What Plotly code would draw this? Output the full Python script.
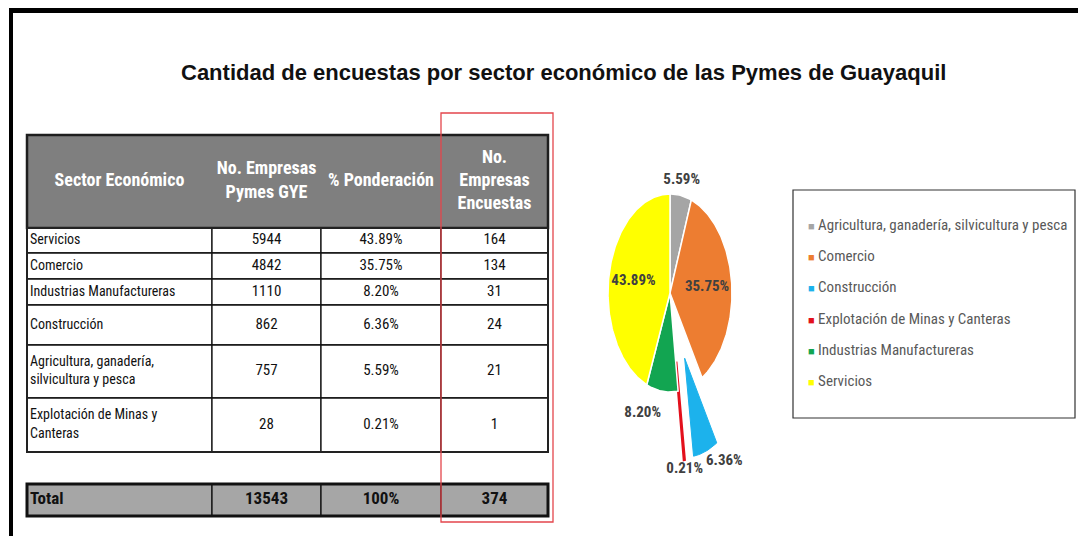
import math

import numpy as np
import plotly.graph_objects as go

# ---- data -------------------------------------------------------------
HEADERS = [
    "Sector Económico",
    "No. Empresas<br>Pymes GYE",
    "% Ponderación",
    "No.<br>Empresas<br>Encuestas",
]
SECTORS = [
    "Servicios",
    "Comercio",
    "Industrias Manufactureras",
    "Construcción",
    "Agricultura, ganadería,<br>silvicultura y pesca",
    "Explotación de Minas y<br>Canteras",
]
EMPRESAS = [5944, 4842, 1110, 862, 757, 28]
PONDERACION = [43.89, 35.75, 8.20, 6.36, 5.59, 0.21]
ENCUESTAS = [164, 134, 31, 24, 21, 1]
TOTAL_ROW = ["Total", "13543", "100%", "374"]

PIE_LABELS = [
    "Agricultura, ganadería, silvicultura y pesca",
    "Comercio",
    "Construcción",
    "Explotación de Minas y Canteras",
    "Industrias Manufactureras",
    "Servicios",
]
PIE_VALUES = [5.59, 35.75, 6.36, 0.21, 8.20, 43.89]

# ---- style ------------------------------------------------------------
W, H = 1078, 536
PIE_COLORS = ["#a5a5a5", "#ed7d31", "#1cb2ec", "#e3101c", "#12a551", "#ffff00"]
PIE_PULL = [0, 0, 0.7, 0.7, 0, 0]
PIE_EDGE_W = [1.5, 1.5, 1.0, 2.8, 1.5, 1.5]
# label radius (before pull) and text position for each slice
LABEL_R = [1.08, 0.6, 1.02, 1.02, 1.15, 0.6]
LABEL_POS = ["top center", "middle center", "bottom right", "bottom center",
             "bottom left", "middle center"]

NARROW = "Liberation Sans Narrow, Arial Narrow, Roboto Condensed, Liberation Sans, sans-serif"
TITLE_FONT = "Liberation Sans, Arial, sans-serif"

COL_EDGES = [27, 212, 321, 441, 548]
HEADER_Y = (135, 228)
ROW_EDGES = [228, 253, 279, 305, 345, 398, 452]
TOTAL_Y = (484, 516)

PIE_CX, PIE_CY, PIE_RX, PIE_RY = 670, 293, 62, 99
PIE_XR, PIE_YR = 2.0, 2.2

fig = go.Figure()
shapes = []

# ---- table ------------------------------------------------------------
shapes.append(dict(type="rect", xref="x", yref="y", x0=COL_EDGES[0], x1=COL_EDGES[-1],
                   y0=HEADER_Y[0], y1=HEADER_Y[1], fillcolor="#7f7f7f",
                   line=dict(color="#1e1e1e", width=2.5), layer="below"))
for r in range(len(SECTORS)):
    for c in range(4):
        shapes.append(dict(type="rect", xref="x", yref="y",
                           x0=COL_EDGES[c], x1=COL_EDGES[c + 1],
                           y0=ROW_EDGES[r], y1=ROW_EDGES[r + 1],
                           fillcolor="white", line=dict(color="#111", width=1.3),
                           layer="below"))
shapes.append(dict(type="rect", xref="x", yref="y", x0=COL_EDGES[0], x1=COL_EDGES[-1],
                   y0=ROW_EDGES[0], y1=ROW_EDGES[-1],
                   line=dict(color="#222", width=2), layer="below"))
for c in range(4):
    shapes.append(dict(type="rect", xref="x", yref="y",
                       x0=COL_EDGES[c], x1=COL_EDGES[c + 1],
                       y0=TOTAL_Y[0], y1=TOTAL_Y[1], fillcolor="#a6a6a6",
                       line=dict(color="#111", width=1.3), layer="below"))
shapes.append(dict(type="rect", xref="x", yref="y", x0=COL_EDGES[0], x1=COL_EDGES[-1],
                   y0=TOTAL_Y[0], y1=TOTAL_Y[1], line=dict(color="#111", width=3),
                   layer="below"))

col_mid = [(COL_EDGES[i] + COL_EDGES[i + 1]) / 2 for i in range(4)]
row_mid = [(ROW_EDGES[i] + ROW_EDGES[i + 1]) / 2 for i in range(len(SECTORS))]
header_mid = (HEADER_Y[0] + HEADER_Y[1]) / 2
total_mid = (TOTAL_Y[0] + TOTAL_Y[1]) / 2

text_kw = dict(mode="text", hoverinfo="skip", showlegend=False, xaxis="x", yaxis="y")

fig.add_trace(go.Scatter(x=col_mid, y=[header_mid] * 4,
                         text=[f"<b>{h}</b>" for h in HEADERS],
                         textposition="middle center",
                         textfont=dict(family=NARROW, size=18, color="white"), **text_kw))
fig.add_trace(go.Scatter(x=[COL_EDGES[0] + 3] * len(SECTORS), y=row_mid, text=SECTORS,
                         textposition="middle right",
                         textfont=dict(family=NARROW, size=14, color="#111"), **text_kw))
for c, col in enumerate([EMPRESAS, [f"{v:.2f}%" for v in PONDERACION], ENCUESTAS]):
    fig.add_trace(go.Scatter(x=[col_mid[c + 1]] * len(col), y=row_mid,
                             text=[str(v) for v in col], textposition="middle center",
                             textfont=dict(family=NARROW, size=15, color="#111"), **text_kw))
fig.add_trace(go.Scatter(x=[COL_EDGES[0] + 3] + col_mid[1:], y=[total_mid] * 4,
                         text=[f"<b>{t}</b>" for t in TOTAL_ROW],
                         textposition=["middle right"] + ["middle center"] * 3,
                         textfont=dict(family=NARROW, size=17, color="#111"), **text_kw))

# red highlight box round the survey column
shapes.append(dict(type="rect", xref="x", yref="y", x0=441, x1=553, y0=113, y1=522,
                   line=dict(color="#e4464c", width=1.3), layer="above"))

# ---- pie (stretched, as in the source) -------------------------------
total = sum(PIE_VALUES)
start = 0.0
lab_x, lab_y = [], []
for i, (name, val) in enumerate(zip(PIE_LABELS, PIE_VALUES)):
    f0, f1 = start / total, (start + val) / total
    mid = 2 * math.pi * (f0 + f1) / 2
    ox, oy = PIE_PULL[i] * math.sin(mid), PIE_PULL[i] * math.cos(mid)
    t = np.linspace(2 * math.pi * f0, 2 * math.pi * f1, max(3, int(val * 3.6) + 2))
    xs = [ox] + list(ox + np.sin(t)) + [ox]
    ys = [oy] + list(oy + np.cos(t)) + [oy]
    edge = PIE_COLORS[i] if PIE_PULL[i] else "white"
    fig.add_trace(go.Scatter(x=xs, y=ys, fill="toself", fillcolor=PIE_COLORS[i],
                             mode="lines", line=dict(color=edge, width=PIE_EDGE_W[i]),
                             name=name, showlegend=False, hoverinfo="name",
                             xaxis="x2", yaxis="y2"))
    rr = LABEL_R[i] + PIE_PULL[i]
    lab_x.append(rr * math.sin(mid))
    lab_y.append(rr * math.cos(mid))
    start += val

fig.add_trace(go.Scatter(x=lab_x, y=lab_y, mode="text",
                         text=[f"<b>{v:.2f}%</b>" for v in PIE_VALUES],
                         textposition=LABEL_POS, hoverinfo="skip", showlegend=False,
                         textfont=dict(family=NARROW, size=15, color="#404040"),
                         xaxis="x2", yaxis="y2", cliponaxis=False))

# legend box
shapes.append(dict(type="rect", xref="x", yref="y", x0=793, x1=1075, y0=190, y1=418,
                   line=dict(color="#333", width=1.2), fillcolor="white", layer="below"))
annotations = []
for i, (name, col) in enumerate(zip(PIE_LABELS, PIE_COLORS)):
    annotations.append(dict(
        xref="x", yref="y", x=806, y=225 + i * 31.2, xanchor="left", yanchor="middle",
        showarrow=False,
        text=f"<span style='color:{col};font-size:11px'>■</span> {name}",
        font=dict(family=NARROW, size=15, color="#595959"),
    ))

# title
annotations.append(dict(
    xref="x", yref="y", x=563, y=72, showarrow=False, xanchor="center", yanchor="middle",
    text="<b>Cantidad de encuestas por sector económico de las Pymes de Guayaquil</b>",
    font=dict(family=TITLE_FONT, size=22, color="#111"),
))

# outer frame (black top and left edges)
shapes.append(dict(type="line", xref="x", yref="y", x0=9, x1=W, y0=10.5, y1=10.5,
                   line=dict(color="black", width=5)))
shapes.append(dict(type="line", xref="x", yref="y", x0=11, x1=11, y0=8, y1=H,
                   line=dict(color="black", width=4)))

x2_dom = [(PIE_CX - PIE_XR * PIE_RX) / W, (PIE_CX + PIE_XR * PIE_RX) / W]
y2_dom = [(H - (PIE_CY + PIE_YR * PIE_RY)) / H, (H - (PIE_CY - PIE_YR * PIE_RY)) / H]

fig.update_layout(
    width=W, height=H,
    margin=dict(l=0, r=0, t=0, b=0),
    paper_bgcolor="white", plot_bgcolor="rgba(0,0,0,0)",
    xaxis=dict(range=[0, W], visible=False, domain=[0, 1], fixedrange=True),
    yaxis=dict(range=[H, 0], visible=False, domain=[0, 1], fixedrange=True),
    xaxis2=dict(range=[-PIE_XR, PIE_XR], visible=False, domain=x2_dom,
                anchor="y2", fixedrange=True),
    yaxis2=dict(range=[-PIE_YR, PIE_YR], visible=False, domain=y2_dom,
                anchor="x2", fixedrange=True),
    shapes=shapes,
    annotations=annotations,
    showlegend=False,
)

fig.write_html("out.html", config={"displayModeBar": False},
               post_script="document.body.style.margin='0';")
